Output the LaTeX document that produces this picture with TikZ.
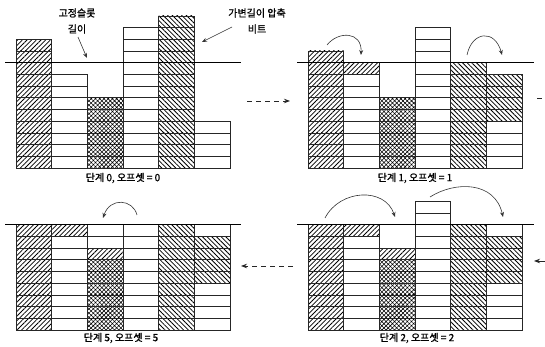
\documentclass[tikz,border=0pt]{standalone}
\usepackage{fontspec}
\newfontfamily\kr[FakeBold=1.2]{Noto Sans CJK KR}
\usetikzlibrary{arrows.meta,patterns.meta}

\newcommand{\cw}{35.7}
\newcommand{\ch}{11.7}
% one column of bit cells, listed from the bottom up
\newcommand{\bitcol}[2]{%
  \foreach \s [count=\k from 0] in {#2}
    \draw[cell,\s] ({#1*\cw},{\k*\ch}) rectangle ++(\cw,\ch);
}

\begin{document}
\begin{tikzpicture}[
  x=1pt,y=1pt,
  cell/.style={draw=black!85,line width=0.7pt},
  hA/.style={pattern={Lines[angle=45,distance=3.3pt,line width=0.8pt]}},
  hB/.style={pattern={Lines[angle=-45,distance=3.3pt,line width=0.8pt]}},
  xh/.style={pattern={Hatch[angle=45,distance=3pt,line width=0.55pt]}},
  wt/.style={fill=white},
  base/.style={draw=black,line width=1.6pt},
  ptr/.style={-{Stealth[length=5pt,width=4pt]},draw=black!80,line width=0.6pt},
  flow/.style={-{Stealth[length=6pt,width=4.5pt]},draw=black!85,line width=0.8pt,dash pattern=on 5pt off 4pt},
  steplbl/.style={font=\kr\fontsize{10}{11}\selectfont},
  toplbl/.style={font=\kr\fontsize{10}{16}\selectfont,align=center},
]
\useasboundingbox (0,0) rectangle (545,347);

% step 0
\begin{scope}[shift={(16,179)}]
\bitcol{0}{hA,hA,hA,hA,hA,hA,hA,hA,hA,hA,hA}
\bitcol{1}{wt,wt,wt,wt,wt,wt,wt,wt}
\bitcol{2}{xh,xh,xh,xh,xh,xh}
\bitcol{3}{wt,wt,wt,wt,wt,wt,wt,wt,wt,wt,wt,wt}
\bitcol{4}{hB,hB,hB,hB,hB,hB,hB,hB,hB,hB,hB,hB,hB}
\bitcol{5}{wt,wt,wt,wt}
\draw[base] (-11,{9*\ch}) -- (225,{9*\ch});
\end{scope}

% step 1
\begin{scope}[shift={(308,179)}]
\bitcol{0}{hA,hA,hA,hA,hA,hA,hA,hA,hA,hA}
\bitcol{1}{wt,wt,wt,wt,wt,wt,wt,wt,hA}
\bitcol{2}{xh,xh,xh,xh,xh,xh}
\bitcol{3}{wt,wt,wt,wt,wt,wt,wt,wt,wt,wt,wt,wt}
\bitcol{4}{hB,hB,hB,hB,hB,hB,hB,hB,hB}
\bitcol{5}{wt,wt,wt,wt,hB,hB,hB,hB}
\draw[base] (-11,{9*\ch}) -- (226,{9*\ch});
\end{scope}

% step 2
\begin{scope}[shift={(308,17)}]
\bitcol{0}{hA,hA,hA,hA,hA,hA,hA,hA,hA}
\bitcol{1}{wt,wt,wt,wt,wt,wt,wt,wt,hA}
\bitcol{2}{xh,xh,xh,xh,xh,xh,hA}
\bitcol{3}{wt,wt,wt,wt,wt,wt,wt,wt,wt,wt,wt}
\bitcol{4}{hB,hB,hB,hB,hB,hB,hB,hB,hB}
\bitcol{5}{wt,wt,wt,wt,hB,hB,hB,hB,wt}
\draw[base] (-11,{9*\ch}) -- (226,{9*\ch});
\end{scope}

% step 5
\begin{scope}[shift={(16,17)}]
\bitcol{0}{hA,hA,hA,hA,hA,hA,hA,hA,hA}
\bitcol{1}{wt,wt,wt,wt,wt,wt,wt,wt,hA}
\bitcol{2}{xh,xh,xh,xh,xh,xh,hA,wt,wt}
\bitcol{3}{wt,wt,wt,wt,wt,wt,wt,wt,wt}
\bitcol{4}{hB,hB,hB,hB,hB,hB,hB,hB,hB}
\bitcol{5}{wt,wt,wt,wt,hB,hB,hB,hB,wt}
\draw[base] (-11,{9*\ch}) -- (225,{9*\ch});
\end{scope}

% labels
\node[toplbl] (fixlbl) at (77,326) {고정슬롯\\길이};
\node[toplbl] (varlbl) at (257,326) {가변길이 압축\\비트};
\node[steplbl] (s0) at (123,169) {단계 0, 오프셋 = 0};
\node[steplbl] (s1) at (415,169) {단계 1, 오프셋 = 1};
\node[steplbl] (s2) at (417,9) {단계 2, 오프셋 = 2};
\node[steplbl] (s5) at (121,9) {단계 5, 오프셋 = 5};

\coordinate (fixtip) at (87,289);
\coordinate (varfoot) at (232,320);
\coordinate (vartip) at (202,305);
\draw[ptr] ([xshift=1pt]fixlbl.south) -- (fixtip);
\draw[ptr] (varfoot) -- (vartip);

% moves of the overflow bits
\draw[ptr] (327,302) .. controls (338,316) and (362,316) .. (361,292);
\draw[ptr] (467,292) .. controls (472,316) and (495,318) .. (502,292);
\draw[ptr] (325,129) .. controls (340,158) and (385,160) .. (395,130);
\draw[ptr] (430,150) .. controls (455,166) and (495,166) .. (503,130);
\draw[ptr] (137,132) .. controls (133,148) and (110,150) .. (103,129);

% steps in order
\coordinate (a0) at (247,246);
\coordinate (a1) at (290,246);
\coordinate (b0) at (293,81);
\coordinate (b1) at (241,81);
\draw[flow] (a0) -- (a1);
\draw[flow] (b0) -- (b1);
\draw[flow,-] (537,249) -- (545,249);
\draw[flow,solid] (545,86) -- (534,86);

\end{tikzpicture}
\end{document}
